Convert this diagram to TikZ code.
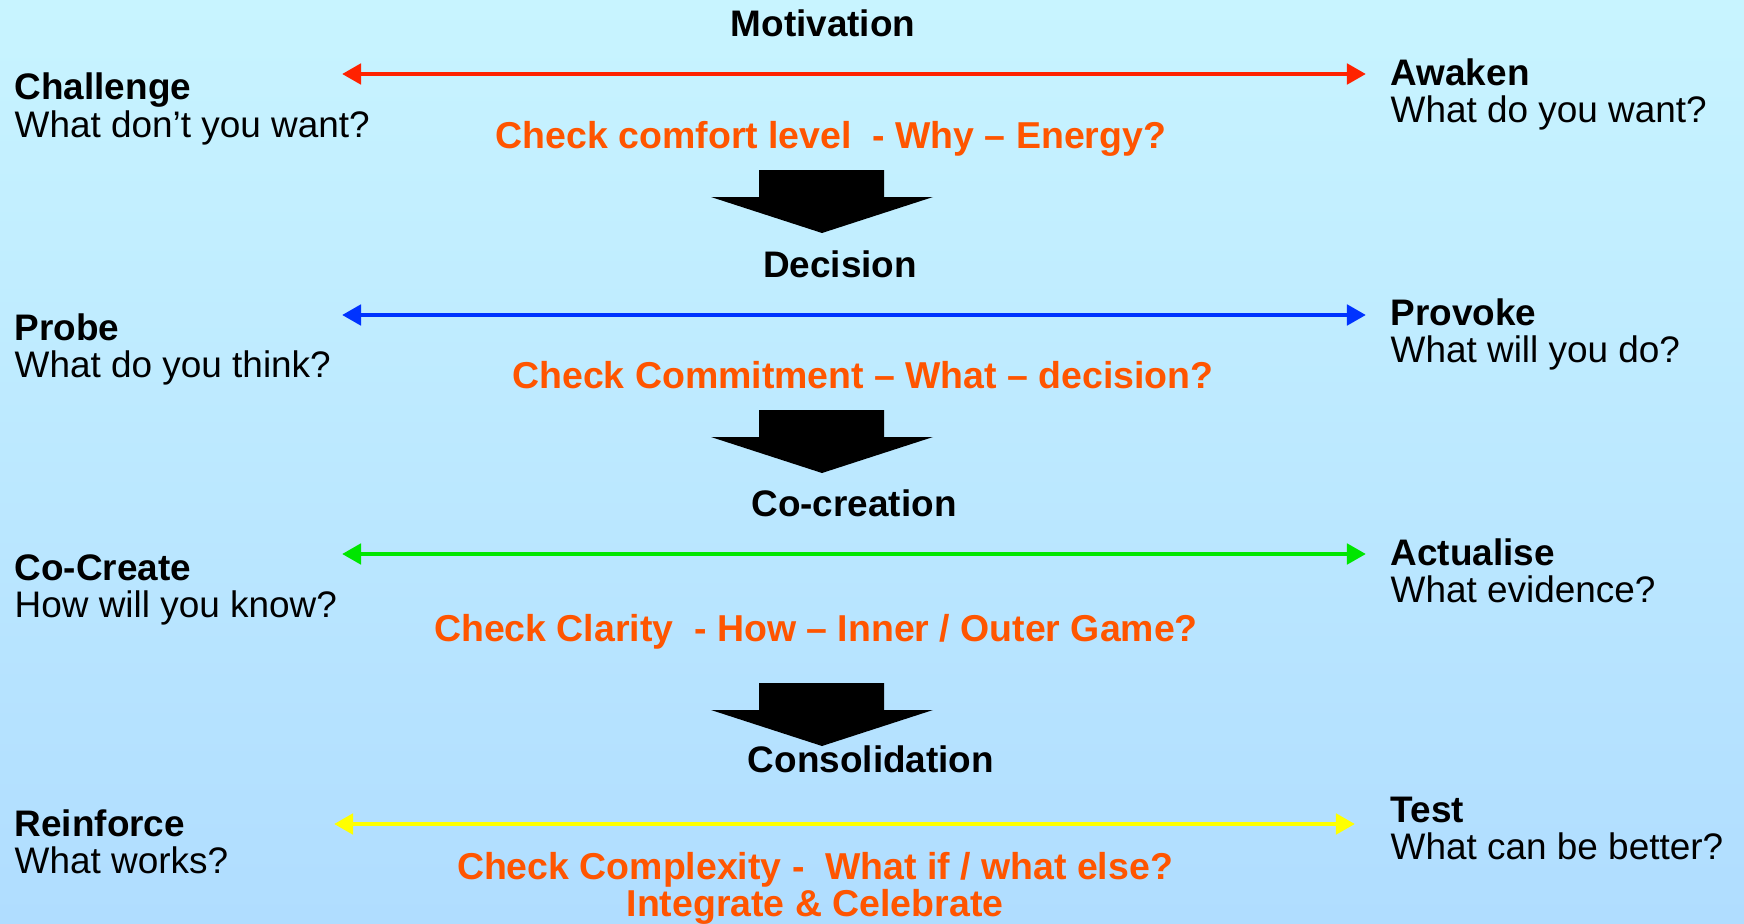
\documentclass[tikz,border=0pt]{standalone}
\usepackage{fontspec}
\setmainfont{Liberation Sans}
\usetikzlibrary{arrows.meta}
\usetikzlibrary{calc}
\definecolor{bgtop}{RGB}{200,244,255}
\definecolor{bgbottom}{RGB}{176,221,255}
\definecolor{checkorange}{RGB}{255,85,0}
\definecolor{motred}{RGB}{255,34,0}
\definecolor{decblue}{RGB}{0,51,255}
\definecolor{cocgreen}{RGB}{0,230,0}
\definecolor{conyellow}{RGB}{255,255,0}

\begin{document}
\begin{tikzpicture}[
    x=0.01cm, y=-0.01cm,
    >={Triangle[length=0.19cm,width=0.2cm]},
    stage/.style={font=\fontsize{10.5}{12}\selectfont\bfseries,anchor=base,inner sep=0pt},
    check/.style={font=\fontsize{10.65}{12}\selectfont\bfseries,text=checkorange,anchor=base,inner sep=0pt},
    side/.style={font=\fontsize{10.5}{12}\selectfont\bfseries,anchor=base west,inner sep=0pt},
    question/.style={font=\fontsize{10.5}{12}\selectfont,anchor=base west,inner sep=0pt},
    scale link/.style={line width=1.4pt,<->}
    ]
    % background
    \shade[top color=bgtop,bottom color=bgbottom] (0,0) rectangle (1744,924);
    \useasboundingbox (0,0) rectangle (1744,924);
    % stages
    \node [stage] (motivation) at (823,37) {Motivation};
    \node [stage] (decision) at (840,277) {Decision};
    \node [stage] (cocreation) at (854,516) {Co-creation};
    \node [stage] (consolidation) at (871,772) {Consolidation};
    % checks
    \node [check] (check1) at (831,148) {Check comfort level\ \ - Why -- Energy?};
    \node [check] (check2) at (863,388) {Check Commitment -- What -- decision?};
    \node [check] (check3) at (816,641) {Check Clarity\ \ - How -- Inner / Outer Game?};
    \node [check] (check4) at (815,879) {Check Complexity -\ \ What if / what else?};
    \node [check] (check5) at (815,916) {Integrate \& Celebrate};
    % left and right labels
    \foreach \n/\x/\y/\t/\q in {
        challenge/14/100/Challenge/What don’t you want?,
        probe/14/340/Probe/What do you think?,
        cocreate/14/580/Co-Create/How will you know?,
        reinforce/14/836/Reinforce/What works?,
        awaken/1390/85/Awaken/What do you want?,
        provoke/1390/325/Provoke/What will you do?,
        actualise/1390/565/Actualise/What evidence?,
        test/1390/822/Test/What can be better?} {
        \node [side] (\n) at (\x,\y) {\t};
        \node [question] (\n q) at ($(\n.base west)+(0,37)$) {\q};
    }
    % scale ends
    \coordinate (motL) at (342,74);
    \coordinate (motR) at (1366,74);
    \coordinate (decL) at (342,315);
    \coordinate (decR) at (1366,315);
    \coordinate (cocL) at (342,554);
    \coordinate (cocR) at (1366,554);
    \coordinate (conL) at (334,824);
    \coordinate (conR) at (1355,824);
    % scales
    \draw [scale link,motred] (motL) -- (motR);
    \draw [scale link,decblue] (decL) -- (decR);
    \draw [scale link,cocgreen] (cocL) -- (cocR);
    \draw [scale link,conyellow] (conL) -- (conR);
    % block arrows
    \foreach \t in {0,240,513} {
        \fill [black] (759,170+\t) -- (884,170+\t) -- (884,197+\t) -- (933,197+\t)
            -- (822,233+\t) -- (711,197+\t) -- (759,197+\t) -- cycle;
    }
\end{tikzpicture}
\end{document}
